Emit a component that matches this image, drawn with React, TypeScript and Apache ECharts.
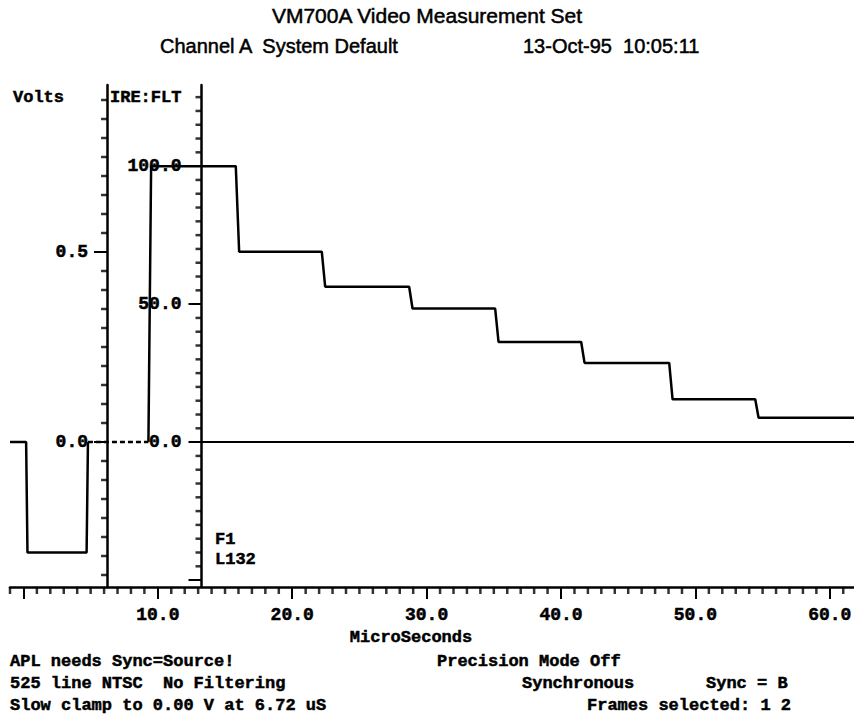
import React, { useEffect, useRef } from "react";
import * as echarts from "echarts";

// ---- data (time in microseconds, level in IRE) ----
const syncTimes = [-1.0, 0.2, 0.3, 4.7, 4.8];
const syncLevels = [0, 0, -40, -40, 0];
const burstTimes = [4.8, 9.3];
const burstLevels = [0, 0];
const stairTimes = [9.3, 9.5, 15.8, 16.05, 22.2, 22.45, 28.7, 28.95, 35.1, 35.35, 41.5, 41.75, 48.05, 48.3, 54.45, 54.7, 61.8];
const stairLevels = [0, 100, 100, 69, 69, 56.3, 56.3, 48.4, 48.4, 36.3, 36.3, 28.7, 28.7, 15.5, 15.5, 8.8, 8.8];
const zeroLineTimes = [13.25, 61.8];
const zeroLineLevels = [0, 0];

// ---- axes ----
const xRange = [-1.0, 61.8];
const xMinorTicks = [-1, 1, 2, 3, 4, 5, 6, 7, 8, 9, 11, 12, 13, 14, 15, 16, 17, 18, 19, 21, 22, 23, 24, 25, 26, 27, 28, 29, 31, 32, 33, 34, 35, 36, 37, 38, 39, 41, 42, 43, 44, 45, 46, 47, 48, 49, 51, 52, 53, 54, 55, 56, 57, 58, 59, 61];
const xMajorTicks = [0, 10, 20, 30, 40, 50, 60];
const xTickLabels = [10, 20, 30, 40, 50, 60];
const ireRange = [-52.5, 129.4];
const ireMinorTicks = [-45, -40, -35, -30, -25, -20, -15, -10, -5, 5, 10, 15, 20, 25, 30, 35, 40, 45, 55, 60, 65, 70, 75, 80, 85, 90, 95, 105, 110, 115, 120, 125];
const ireMajorTicks = [-50, 0, 50, 100];
const ireTickLabels = [0, 50, 100];
const voltRange = [-0.3816, 0.9395];
const voltMinorTicks = [-0.35, -0.3, -0.25, -0.2, -0.15, -0.1, -0.05, 0.05, 0.1, 0.15, 0.2, 0.25, 0.3, 0.35, 0.4, 0.45, 0.55, 0.6, 0.65, 0.7, 0.75, 0.8, 0.85, 0.9];
const voltMajorTicks = [0, 0.5];
const voltTickLabels = [0, 0.5];
const voltAxisAt = 6.22; // microseconds where the Volts axis stands
const ireAxisAt = 13.25; // microseconds where the IRE axis stands

// ---- texts ----
const titleText = "VM700A Video Measurement Set";
const channelText = "Channel A  System Default";
const dateText = "13-Oct-95  10:05:11";
const xAxisName = "MicroSeconds";
const footerLeft = ["APL needs Sync=Source!", "525 line NTSC", "Slow clamp to 0.00 V at 6.72 uS"];

const pairs = (xs: number[], ys: number[]) => xs.map((x, i) => [x, ys[i]]);

const MONO = '"Liberation Mono", "DejaVu Sans Mono", monospace';
const SANS = '"Liberation Sans", Arial, sans-serif';

export default function App() {
  const ref = useRef<HTMLDivElement>(null);
  useEffect(() => {
    document.body.style.margin = "0";
    if (!ref.current) return;
    const chart = echarts.init(ref.current, null, { renderer: "svg" });
    const black = "#000";
    const labelStyle = {
      color: black, fontFamily: MONO, fontWeight: "bold" as const, fontSize: 18,
      textBorderColor: black, textBorderWidth: 0.5,
    };
    const monoFont = `bold 17px ${MONO}`;
    const thick = { stroke: black, lineWidth: 0.5 };

    const mainY = (r: number[], ticks: number[], labels: number[], offset: number, margin: number) => ({
      type: "value", position: "left", min: r[0], max: r[1], offset,
      axisLine: { show: true, onZero: false, lineStyle: { color: black, width: 2.5 } },
      axisTick: { show: true, customValues: ticks, length: 13, lineStyle: { color: black, width: 2 } },
      axisLabel: { show: true, customValues: labels, margin, formatter: (v: number) => v.toFixed(1), ...labelStyle },
      splitLine: { show: false },
    });

    // minor ticks: small marks placed by the axes' own scales
    const tickMarks = (data: number[][], yAxisIndex: number, size: number[], offset: number[]) => ({
      type: "scatter",
      yAxisIndex,
      silent: true,
      clip: false,
      symbol: "rect",
      symbolSize: size,
      symbolOffset: offset,
      itemStyle: { color: black },
      data,
      z: 5,
    });

    const option: any = {
      animation: false,
      backgroundColor: "#fff",
      grid: { left: 10, right: 0, top: 85, bottom: 130, containLabel: false, outerBoundsMode: "none" },
      xAxis: {
        type: "value", position: "bottom", min: xRange[0], max: xRange[1],
        axisLine: { show: true, onZero: false, lineStyle: { color: black, width: 2.5 } },
        axisTick: { show: true, customValues: xMajorTicks, length: 12, lineStyle: { color: black, width: 2 } },
        axisLabel: { show: true, customValues: xTickLabels, margin: 19, formatter: (v: number) => v.toFixed(1), ...labelStyle },
        splitLine: { show: false },
      },
      yAxis: [
        mainY(voltRange, voltMajorTicks, voltTickLabels, -97, 19),
        mainY(ireRange, ireMajorTicks, ireTickLabels, -191.5, 20),
      ],
      series: [
        tickMarks(xMinorTicks.map((t) => [t, ireRange[0]]), 1, [2.5, 7], [0, 3.5]),
        tickMarks(voltMinorTicks.map((v) => [voltAxisAt, v]), 0, [6, 2.5], [-3, 0]),
        tickMarks(ireMinorTicks.map((v) => [ireAxisAt, v]), 1, [6, 2.5], [-3, 0]),
        {
          type: "line", yAxisIndex: 1, showSymbol: false,
          data: pairs(zeroLineTimes, zeroLineLevels),
          lineStyle: { color: black, width: 2 },
        },
        {
          type: "line", yAxisIndex: 1, showSymbol: false,
          data: pairs(syncTimes, syncLevels),
          lineStyle: { color: black, width: 2.5 },
        },
        {
          type: "line", yAxisIndex: 1, showSymbol: false,
          data: pairs(burstTimes, burstLevels),
          lineStyle: { color: black, width: 2.5, type: [5, 3] },
        },
        {
          type: "line", yAxisIndex: 1, showSymbol: false,
          data: pairs(stairTimes, stairLevels),
          lineStyle: { color: black, width: 2.5 },
        },
      ],
      graphic: {
        elements: [
          { type: "text", x: 427, y: 15, style: { text: titleText, font: `21px ${SANS}`, fill: black, ...thick, textAlign: "center", textVerticalAlign: "middle" } },
          { type: "text", x: 160, y: 46, style: { text: channelText, font: `20px ${SANS}`, fill: black, ...thick, textAlign: "left", textVerticalAlign: "middle" } },
          { type: "text", x: 523, y: 46, style: { text: dateText, font: `20px ${SANS}`, fill: black, ...thick, textAlign: "left", textVerticalAlign: "middle" } },
          { type: "text", x: 13, y: 97, style: { text: "Volts", font: monoFont, fill: black, ...thick, textVerticalAlign: "middle" } },
          { type: "text", x: 110, y: 97, style: { text: "IRE:FLT", font: monoFont, fill: black, ...thick, textVerticalAlign: "middle" } },
          { type: "text", x: 215, y: 539, style: { text: "F1", font: monoFont, fill: black, ...thick, textVerticalAlign: "middle" } },
          { type: "text", x: 215, y: 559, style: { text: "L132", font: monoFont, fill: black, ...thick, textVerticalAlign: "middle" } },
          { type: "text", x: 411, y: 637, style: { text: xAxisName, font: monoFont, fill: black, ...thick, textAlign: "center", textVerticalAlign: "middle" } },
          { type: "text", x: 10, y: 661, style: { text: footerLeft[0], font: monoFont, fill: black, ...thick, textVerticalAlign: "middle" } },
          { type: "text", x: 10, y: 683, style: { text: footerLeft[1], font: monoFont, fill: black, ...thick, textVerticalAlign: "middle" } },
          { type: "text", x: 10, y: 705, style: { text: footerLeft[2], font: monoFont, fill: black, ...thick, textVerticalAlign: "middle" } },
          { type: "text", x: 163, y: 683, style: { text: "No Filtering", font: monoFont, fill: black, ...thick, textVerticalAlign: "middle" } },
          { type: "text", x: 437, y: 661, style: { text: "Precision Mode Off", font: monoFont, fill: black, ...thick, textVerticalAlign: "middle" } },
          { type: "text", x: 522, y: 683, style: { text: "Synchronous", font: monoFont, fill: black, ...thick, textVerticalAlign: "middle" } },
          { type: "text", x: 706, y: 683, style: { text: "Sync = B", font: monoFont, fill: black, ...thick, textVerticalAlign: "middle" } },
          { type: "text", x: 587, y: 705, style: { text: "Frames selected: 1 2", font: monoFont, fill: black, ...thick, textVerticalAlign: "middle" } },
        ],
      },
    };
    chart.setOption(option);
    return () => chart.dispose();
  }, []);
  return <div ref={ref} style={{ width: 854, height: 717 }} />;
}
